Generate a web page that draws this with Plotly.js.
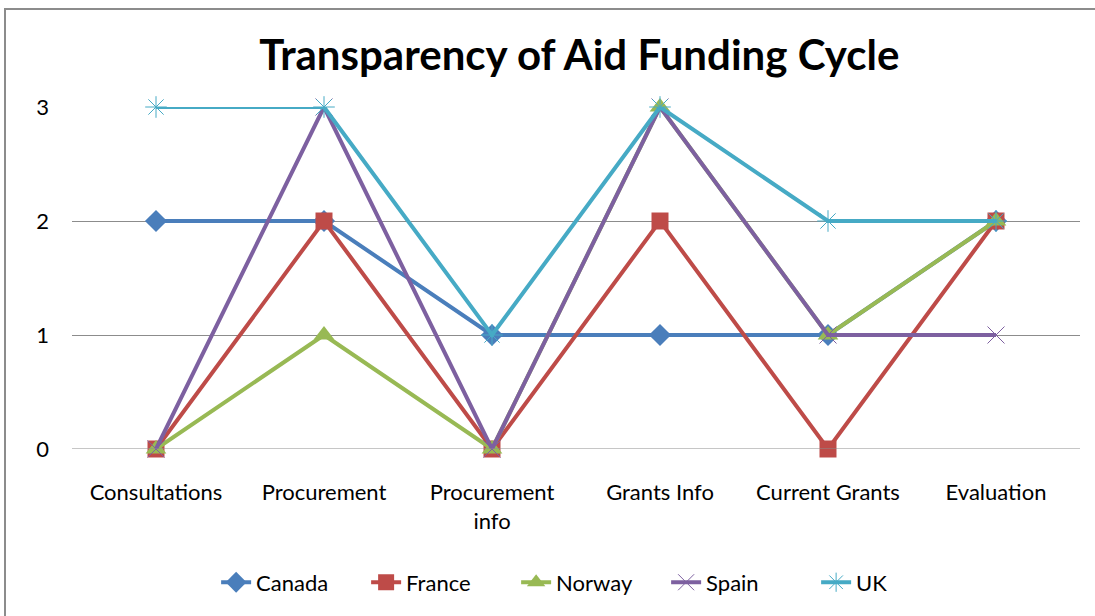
<!DOCTYPE html>
<html><head><meta charset="utf-8">
<script src="https://cdn.plot.ly/plotly-3.0.1.min.js"></script>
<style>html,body{margin:0;padding:0;background:#fff;overflow:hidden}
#chart{width:1095px;height:616px;position:absolute;left:0;top:0}
#frame{position:absolute;left:4px;top:8px;width:1200px;height:700px;border:2px solid #8c8c8c;pointer-events:none;box-sizing:border-box}
</style></head><body>
<div id="chart"></div><div id="frame"></div>
<script>
const categories = ["Consultations", "Procurement", "Procurement<br>info", "Grants Info", "Current Grants", "Evaluation"];
const canada = [2, 2, 1, 1, 1, 2];
const france = [0, 2, 0, 2, 0, 2];
const norway = [0, 1, 0, 3, 1, 2];
const spain  = [0, 3, 0, 3, 1, 1];
const uk     = [3, 3, 1, 3, 2, 2];
const yTicks = [0, 1, 2, 3];

const font = "Lato, 'Open Sans', sans-serif";
function tr(name, y, color, symbol, size, mline) {
  return {
    type: 'scatter', mode: 'lines+markers', name: name,
    x: categories, y: y,
    line: {color: color, width: 4},
    marker: {symbol: symbol, size: size, color: color, line: {color: color, width: mline}},
    cliponaxis: false
  };
}
const data = [
  tr('Canada', canada, '#4A7EBB', 'diamond', 17, 0),
  tr('France', france, '#BE4B48', 'square', 17, 0),
  tr('Norway', norway, '#98B954', 'triangle-up', 18, 0),
  tr('Spain', spain, '#7D60A0', 'x-thin-open', 17, 1),
  tr('UK', uk, '#46AAC5', 'asterisk-open', 18, 1)
];
const layout = {
  width: 1095, height: 616,
  margin: {l: 72, r: 15, t: 107, b: 163},
  paper_bgcolor: '#fff', plot_bgcolor: '#fff',
  font: {family: font, size: 22, color: '#000'},
  title: {text: '<b>Transparency of Aid Funding Cycle</b>', font: {family: font, size: 42, color: '#000'},
          x: 0.529, xanchor: 'center', y: 1 - 55/616, yref: 'container', yanchor: 'middle'},
  xaxis: {type: 'category', range: [-0.5, 5.5], showgrid: false, zeroline: false, showline: false,
          ticks: '', ticklabelstandoff: 28, tickfont: {family: font, size: 22, color: '#000'}, fixedrange: true},
  yaxis: {range: [0, 3], tickvals: yTicks, showgrid: true, gridcolor: '#8c8c8c', gridwidth: 1,
          zeroline: false, showline: false, ticks: '', ticklabelstandoff: 22,
          tickfont: {family: font, size: 22, color: '#000'}, fixedrange: true},
  shapes: [{type: 'line', xref: 'paper', yref: 'y', x0: 0, x1: 1, y0: 0, y1: 0, line: {color: '#8c8c8c', width: 1}}],
  legend: {orientation: 'h', x: 0.515, xanchor: 'center', y: (453-588)/346, yanchor: 'middle',
           font: {family: font, size: 22, color: '#000'}, itemwidth: 30, entrywidth: 105, entrywidthmode: 'pixels'},
  showlegend: true
};
Plotly.newPlot('chart', data, layout, {displayModeBar: false, staticPlot: true});
</script></body></html>
